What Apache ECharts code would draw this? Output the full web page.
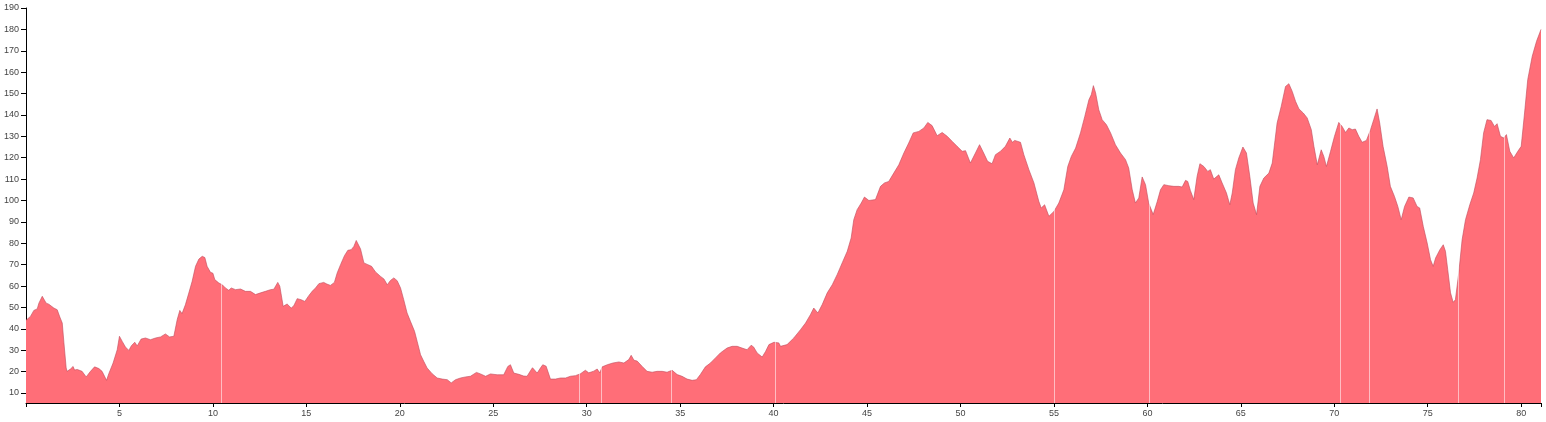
<!DOCTYPE html>
<html>
<head>
<meta charset="utf-8">
<script src="https://cdn.jsdelivr.net/npm/echarts@6/dist/echarts.min.js"></script>
<style>
html,body{margin:0;padding:0;background:#fff;}
#chart{width:1546px;height:422px;}
</style>
</head>
<body>
<div id="chart"></div>
<script>
// distance (km) along the route
const distance = [
0,0.24,0.42,0.6,0.69,0.87,0.96,1.08,1.22,1.3,1.49,1.67,1.81,1.94,2.03,2.15,2.2,2.38,2.52,2.6,2.74,3.0,3.22,3.45,3.67,3.9,4.07,4.31,4.43,4.66,4.88,5.0,5.15,5.32,5.5,5.64,5.82,5.95,6.16,6.39,6.66,6.93,7.2,7.46,7.68,7.91,8.09,8.23,8.35,8.53,8.71,8.89,9.07,9.25,9.43,9.57,9.69,9.87,10.0,10.1,10.32,10.5,10.67,10.85,10.98,11.21,11.48,11.74,12.01,12.28,12.55,12.81,13.08,13.26,13.47,13.58,13.76,13.97,14.19,14.33,14.51,14.72,14.92,15.13,15.31,15.49,15.67,15.93,16.1,16.29,16.5,16.65,16.83,17.04,17.22,17.4,17.54,17.67,17.77,17.9,18.08,18.29,18.49,18.7,18.97,19.15,19.33,19.5,19.68,19.86,20.04,20.21,20.39,20.57,20.79,20.93,21.11,21.28,21.46,21.73,22.0,22.27,22.54,22.75,22.98,23.25,23.52,23.78,24.1,24.32,24.59,24.85,25.21,25.56,25.78,25.92,26.1,26.37,26.63,26.81,27.0,27.1,27.35,27.55,27.65,27.83,28.06,28.33,28.6,28.87,29.13,29.4,29.67,29.93,30.11,30.38,30.56,30.7,30.83,31.1,31.4,31.72,31.99,32.25,32.38,32.53,32.7,32.97,33.23,33.5,33.77,34.04,34.3,34.57,34.84,35.1,35.37,35.64,35.87,36.08,36.35,36.62,36.89,37.15,37.51,37.78,38.05,38.31,38.58,38.8,38.93,39.12,39.39,39.57,39.75,40.02,40.28,40.37,40.72,41.08,41.44,41.71,41.97,42.15,42.37,42.6,42.87,43.14,43.4,43.67,43.94,44.15,44.29,44.47,44.69,44.86,45.1,45.45,45.72,45.93,46.16,46.43,46.7,46.97,47.23,47.47,47.77,48.04,48.25,48.48,48.75,49.02,49.29,49.56,49.82,50.09,50.27,50.53,50.8,51.02,51.24,51.45,51.69,51.87,52.14,52.4,52.64,52.78,52.9,53.21,53.39,53.66,53.93,54.19,54.32,54.5,54.73,55.0,55.26,55.53,55.74,55.93,56.16,56.42,56.65,56.87,57.0,57.11,57.23,57.4,57.58,57.81,58.03,58.29,58.56,58.83,59.0,59.19,59.36,59.54,59.72,59.9,60.07,60.31,60.53,60.7,60.88,61.15,61.42,61.68,61.86,62.04,62.16,62.3,62.48,62.66,62.81,63.02,63.23,63.37,63.55,63.82,64.0,64.23,64.41,64.54,64.71,64.89,65.11,65.3,65.48,65.66,65.84,66.02,66.23,66.5,66.68,66.94,67.16,67.39,67.57,67.75,67.93,68.11,68.34,68.55,68.77,68.91,69.09,69.3,69.44,69.58,69.8,70.01,70.24,70.42,70.6,70.78,70.96,71.13,71.31,71.49,71.72,71.94,72.11,72.29,72.43,72.61,72.83,73.0,73.22,73.4,73.58,73.76,73.99,74.22,74.43,74.57,74.76,74.97,75.15,75.29,75.42,75.65,75.83,75.95,76.07,76.22,76.36,76.48,76.66,76.84,77.02,77.25,77.46,77.64,77.82,77.99,78.17,78.39,78.57,78.71,78.89,79.07,79.21,79.39,79.6,79.82,80.0,80.18,80.35,80.59,80.82,81.06
];
// elevation (m)
const elevation = [
44,45.8,48.6,49.3,52,55.2,55.5,52,51.5,50.8,49.7,48.9,45.5,42.7,33.4,21.7,20.1,21.2,22.4,20.7,21,20.1,17.5,20.1,22.2,21.4,20.1,15.9,19,24,30.2,36.5,34.1,31.5,29.9,32.1,33.7,32,35.2,35.7,34.9,35.7,36.2,37.6,36.2,36.5,44.3,48.6,47.1,51.3,56.7,62.2,69.2,72.6,73.9,73.3,69.2,66.4,66,63,61.4,60.6,59.1,58,59.1,58.3,58.6,57.5,57.5,56,56.8,57.5,58.3,58.5,61.7,59.9,50.5,51.6,49.7,50.8,54.1,53.6,52.8,55.5,57.5,59.1,61.1,61.7,60.9,60.3,61.7,66.1,70,74.2,76.7,77,78.5,81.3,81.3,77.3,70.8,70,69.2,66.6,64.5,63.3,60.6,62.6,63.8,62.5,59.1,53.6,47.4,43.5,38.8,34.1,27.9,24.8,21.7,19,17,16.5,16.2,14.7,16.2,17,17.5,17.8,19.6,18.9,17.8,18.9,18.5,18.5,22.4,23.2,19.3,18.7,17.9,17.8,20.5,21.8,19.3,22,23.2,22.5,16.5,16.5,17,17,17.8,18.1,19,20.6,19.4,20.2,21.2,19.4,22.2,23.2,24,24.5,24,25.6,27.6,25.3,24.9,22.4,20.1,19.7,20.1,20.1,19.7,20.6,18.6,17.8,16.5,15.9,16.2,18.6,22.2,24,26.4,28.7,31,31.8,31.8,31,30.2,32.3,31.5,28.7,26.8,29.4,32.6,33.7,33.4,31.8,32.6,35.7,39.6,42.7,46.6,49.7,47.4,51.3,56.8,60.6,65.3,70.8,76.2,82.5,91,95.7,98.8,101.6,100,100.4,106.6,108.2,108.9,112.8,116.7,122.2,126.9,131.6,132.3,133.9,136.5,135,130.3,131.8,130,127.6,125.3,123,123.3,117.5,122.2,126.1,122.2,118.3,117.2,121.4,123,125.3,129.2,127.2,128.1,127.2,121.4,114.4,108.2,99.6,96.5,98,92.6,94.9,98.8,105,115.9,120.6,124.5,131.6,139.3,147.1,149.5,153.7,150.3,142.4,137.8,135.4,131.6,126.1,122.2,119.1,115.2,105,98.8,101.2,111,107.4,98.8,93.4,99.6,105,107.4,106.9,106.6,106.6,106.3,109.4,108.9,104.7,100.4,111.3,117.2,115.9,113.6,114.4,110,112,108.2,103.5,98,103.5,114.4,119.9,125,122.2,111.3,98.8,93.4,106.6,110.5,112.8,117.5,136.2,144,153.3,154.6,151,146.3,142.8,140.9,138.6,133.1,125.3,116.7,123.7,120.6,115.9,123,130,136.5,134.6,131.8,133.9,133.1,133.4,130,127.2,128.1,133.1,137.8,142.8,136.2,125.3,115.9,106.6,101.9,97.2,91,97.2,101.6,101.2,97.2,96.5,87.9,80.1,72.3,69.2,73.1,77,79.3,76.2,67.6,56.8,52.4,53.6,66.1,81.7,91,98,103.5,110.5,119.1,131.6,137.8,137.4,134.6,135.9,130,129.2,130.8,123,119.9,123,125.3,140.9,156.5,167.4,174.4,180
];
// thin seams visible in the filled profile (km)
const segmentBreaks = [10.44, 29.58, 30.79, 34.54, 40.1, 55.04, 60.08, 70.33, 71.87, 76.63, 79.12];
// axis ranges
const yMin = 5.3, yMax = 190;

const chart = echarts.init(document.getElementById('chart'), null, {renderer: 'canvas'});
const points = distance.map((d, i) => [d, elevation[i]]);
const labelFont = {fontFamily: 'Liberation Sans, Arial, sans-serif', fontSize: 9, color: '#444'};

chart.setOption({
  animation: false,
  grid: {left: 26, right: 5, top: 8, bottom: 19, containLabel: false},
  xAxis: {
    type: 'value',
    min: 0,
    max: 'dataMax',
    interval: 5,
    axisLine: {lineStyle: {color: '#000', width: 1}},
    axisTick: {show: true, length: 4, lineStyle: {color: '#000'}},
    axisLabel: Object.assign({}, labelFont, {
      margin: 6,
      formatter: v => (v > 0 && Math.abs(v % 5) < 1e-6) ? String(v) : ''
    }),
    splitLine: {show: false}
  },
  yAxis: {
    type: 'value',
    min: yMin,
    max: yMax,
    splitNumber: 18,
    axisLine: {show: true, lineStyle: {color: '#000', width: 1}},
    axisTick: {show: true, length: 5, lineStyle: {color: '#000'}},
    axisLabel: Object.assign({}, labelFont, {
      margin: 7,
      showMinLabel: false,
      formatter: v => (Math.abs(v % 10) < 1e-6) ? String(v) : ''
    }),
    splitLine: {show: false}
  },
  series: [{
    type: 'line',
    data: points,
    showSymbol: false,
    symbol: 'none',
    smooth: false,
    lineStyle: {color: '#c04a5a', width: 0.8, opacity: 0.75},
    areaStyle: {color: '#ff6e78', opacity: 1},
    markLine: {
      silent: true,
      symbol: 'none',
      label: {show: false},
      lineStyle: {color: 'rgba(255,255,255,0.55)', width: 1, type: 'solid'},
      data: segmentBreaks.map(x => ({xAxis: x}))
    }
  }]
});
</script>
</body>
</html>
